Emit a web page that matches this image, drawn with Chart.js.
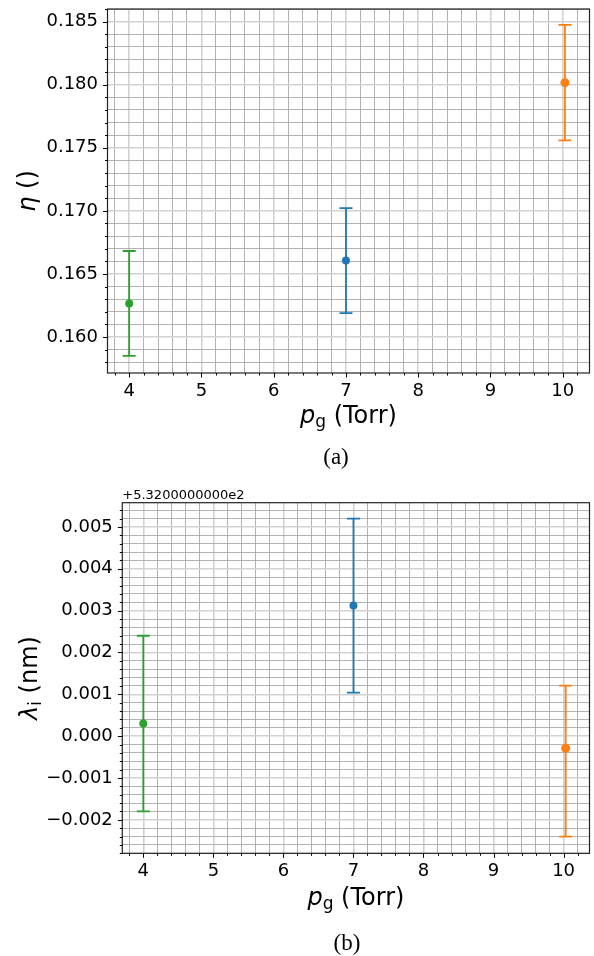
<!DOCTYPE html>
<html><head><meta charset="utf-8">
<script src="https://cdn.jsdelivr.net/npm/chart.js@4.4.1/dist/chart.umd.min.js"></script>
<style>
html,body{margin:0;padding:0;background:#fff;}
body{width:594px;height:956px;position:relative;overflow:hidden;}
canvas{position:absolute;left:0;}
</style></head><body>
<canvas id="c1" width="594" height="480" style="top:0"></canvas>
<canvas id="c2" width="594" height="476" style="top:480px"></canvas>
<script>
// ---------- data ----------
const categories = ['4 Torr', '7 Torr', '10 Torr'];
const pressure = [4.0, 7.0, 10.03];
const etaValues = [0.16266, 0.16606, 0.18016];
const etaErrPlus = [0.00416, 0.00416, 0.00458];
const etaErrMinus = [0.00416, 0.00416, 0.00458];
const lambdaOffsetText = '+5.3200000000e2';
const lambdaValues = [0.00030, 0.00312, -0.00029];
const lambdaErrPlus = [0.00210, 0.00208, 0.00150];
const lambdaErrMinus = [0.00210, 0.00208, 0.00211];
const seriesColors = ['#2ca02c', '#1f77b4', '#ff7f0e'];
const xTickLabels = ['4', '5', '6', '7', '8', '9', '10'];
const etaTickLabels = ['0.160', '0.165', '0.170', '0.175', '0.180', '0.185'];
const lambdaTickLabels = ['−0.002', '−0.001', '0.000', '0.001', '0.002', '0.003', '0.004', '0.005'];

// ---------- helpers ----------
const num = s => parseFloat(s.replace('−', '-'));
function makeTicks(min, max, step) {
  const out = [];
  const start = Math.ceil(min / step - 1e-9);
  for (let k = start; k * step <= max + 1e-12; k++) out.push(+(k * step).toFixed(8));
  return out;
}
const isMajor = (v, step) => Math.abs(v / step - Math.round(v / step)) < 1e-6;
function labelFor(v, labels) {
  for (const l of labels) if (Math.abs(num(l) - v) < 1e-9) return l;
  return '';
}

const MAJOR_GRID = '#d2d2d2', MINOR_GRID = '#a9a9a9';

function drawRich(ctx, parts, x, y, align) {
  let w = 0;
  for (const p of parts) { ctx.font = p.font; w += ctx.measureText(p.t).width; }
  let cx = align === 'center' ? x - w / 2 : x;
  for (const p of parts) {
    ctx.font = p.font;
    ctx.fillText(p.t, cx, y + (p.dy || 0));
    cx += ctx.measureText(p.t).width;
  }
}

const decor = {
  id: 'decor',
  beforeDatasetsDraw(chart) {
    const ctx = chart.ctx, xs = chart.scales.x, ys = chart.scales.y;
    const o = chart.options.plugins.decor;
    ctx.save();
    chart.data.datasets.forEach((ds, i) => {
      const pt = ds.data[0];
      const px = xs.getPixelForValue(pt.x);
      const yt = ys.getPixelForValue(pt.y + o.errPlus[i]);
      const yb = ys.getPixelForValue(pt.y - o.errMinus[i]);
      ctx.strokeStyle = ds.borderColor;
      ctx.lineWidth = 1.8;
      ctx.beginPath();
      ctx.moveTo(px, yt); ctx.lineTo(px, yb);
      ctx.moveTo(px - 6.5, yt); ctx.lineTo(px + 6.5, yt);
      ctx.moveTo(px - 6.5, yb); ctx.lineTo(px + 6.5, yb);
      ctx.stroke();
    });
    ctx.restore();
  },
  afterDraw(chart) {
    const ctx = chart.ctx, a = chart.chartArea, xs = chart.scales.x, ys = chart.scales.y;
    const o = chart.options.plugins.decor;
    ctx.save();
    // spines
    ctx.strokeStyle = '#222';
    ctx.lineWidth = 1.2;
    ctx.strokeRect(a.left, a.top, a.right - a.left, a.bottom - a.top);
    // tick marks
    ctx.lineWidth = 1;
    ctx.strokeStyle = '#000';
    ctx.beginPath();
    xs.ticks.forEach(t => {
      const p = Math.round(xs.getPixelForValue(t.value)) + 0.5;
      const len = isMajor(t.value, 1) ? 4.5 : 2.5;
      ctx.moveTo(p, a.bottom); ctx.lineTo(p, a.bottom + len);
    });
    ys.ticks.forEach(t => {
      const p = Math.round(ys.getPixelForValue(t.value)) + 0.5;
      const len = isMajor(t.value, o.yMajor) ? 4.5 : 2.5;
      ctx.moveTo(a.left, p); ctx.lineTo(a.left - len, p);
    });
    ctx.stroke();
    // axis titles
    ctx.fillStyle = '#000';
    ctx.textBaseline = 'alphabetic';
    drawRich(ctx, o.xTitle, (a.left + a.right) / 2, a.bottom + o.xTitleGap, 'center');
    ctx.translate(o.yTitleX, (a.top + a.bottom) / 2);
    ctx.rotate(-Math.PI / 2);
    drawRich(ctx, o.yTitle, 0, 0, 'center');
    ctx.setTransform(1, 0, 0, 1, 0, 0);
    // offset text
    if (o.offsetText) {
      ctx.font = '13px "DejaVu Sans"';
      ctx.textAlign = 'left';
      ctx.fillText(o.offsetText, a.left, a.top - 4);
    }
    // caption
    ctx.font = '23px "Liberation Serif"';
    ctx.textAlign = 'center';
    ctx.fillText(o.caption, o.captionX, o.captionY);
    ctx.restore();
  }
};

function buildChart(id, cfg) {
  const yMajor = num(cfg.yLabels[1]) - num(cfg.yLabels[0]);
  return new Chart(document.getElementById(id), {
    type: 'scatter',
    data: {
      datasets: pressure.map((x, i) => ({
        label: categories[i],
        data: [{ x: x, y: cfg.values[i] }],
        backgroundColor: seriesColors[i],
        borderColor: seriesColors[i],
        pointRadius: i === 2 ? 4.5 : 4,
        pointBorderWidth: 0,
        pointHoverRadius: 4
      }))
    },
    options: {
      responsive: false,
      animation: false,
      events: [],
      layout: { padding: { top: cfg.padTop, right: 2.3, left: 0, bottom: 0 } },
      plugins: {
        legend: { display: false },
        tooltip: { enabled: false },
        decor: {
          errPlus: cfg.errPlus, errMinus: cfg.errMinus, yMajor: yMajor,
          xTitle: [
            { t: 'p', font: 'italic 24px "DejaVu Sans"' },
            { t: 'g', font: '17px "DejaVu Sans"', dy: 3.5 },
            { t: ' (Torr)', font: '24px "DejaVu Sans"' }
          ],
          yTitle: cfg.yTitle,
          xTitleGap: cfg.xTitleGap,
          yTitleX: cfg.yTitleX,
          offsetText: cfg.offsetText,
          caption: cfg.caption, captionX: cfg.captionX, captionY: cfg.captionY
        }
      },
      scales: {
        x: {
          type: 'linear', min: 3.70, max: 10.37,
          afterBuildTicks: s => { s.ticks = makeTicks(3.70, 10.37, 0.2).map(v => ({ value: v })); },
          afterFit: s => { s.height = cfg.xAxisHeight; s.paddingLeft = 0; s.paddingRight = 0; },
          border: { display: false },
          grid: {
            drawTicks: false,
            color: c => isMajor(c.tick.value, 1) ? MAJOR_GRID : MINOR_GRID,
            lineWidth: c => isMajor(c.tick.value, 1) ? 1.6 : 0.9
          },
          ticks: {
            autoSkip: false, maxRotation: 0, minRotation: 0, padding: 7.5,
            color: '#000', font: { family: 'DejaVu Sans', size: 18 },
            callback: v => isMajor(v, 1) ? labelFor(v, xTickLabels) : ''
          }
        },
        y: {
          type: 'linear', min: cfg.yMin, max: cfg.yMax,
          afterBuildTicks: s => { s.ticks = makeTicks(cfg.yMin, cfg.yMax, cfg.yMinor).map(v => ({ value: v })); },
          afterFit: s => { s.width = cfg.yAxisWidth; s.paddingTop = 0; s.paddingBottom = 0; },
          border: { display: false },
          grid: {
            drawTicks: false,
            color: c => isMajor(c.tick.value, yMajor) ? MAJOR_GRID : MINOR_GRID,
            lineWidth: c => isMajor(c.tick.value, yMajor) ? 1.6 : 0.9
          },
          ticks: {
            autoSkip: false, padding: 9.5,
            color: '#000', font: { family: 'DejaVu Sans', size: 18 },
            callback: v => isMajor(v, yMajor) ? labelFor(v, cfg.yLabels) : ''
          }
        }
      }
    },
    plugins: [decor]
  });
}

buildChart('c1', {
  values: etaValues, errPlus: etaErrPlus, errMinus: etaErrMinus, yLabels: etaTickLabels,
  yMin: 0.15715, yMax: 0.1860, yMinor: 0.001,
  padTop: 9, xAxisHeight: 107, yAxisWidth: 107.5,
  xTitleGap: 50, yTitleX: 35,
  yTitle: [
    { t: 'η', font: 'italic 24px "DejaVu Sans"' },
    { t: ' ()', font: '24px "DejaVu Sans"' }
  ],
  offsetText: null,
  caption: '(a)', captionX: 336, captionY: 464
});

buildChart('c2', {
  values: lambdaValues, errPlus: lambdaErrPlus, errMinus: lambdaErrMinus, yLabels: lambdaTickLabels,
  yMin: -0.0028, yMax: 0.00558, yMinor: 0.0002,
  padTop: 22.7, xAxisHeight: 102.7, yAxisWidth: 122.3,
  xTitleGap: 52, yTitleX: 37,
  yTitle: [
    { t: 'λ', font: 'italic 24px "DejaVu Sans"' },
    { t: 'i', font: '17px "DejaVu Sans"', dy: 3.5 },
    { t: ' (nm)', font: '24px "DejaVu Sans"' }
  ],
  offsetText: lambdaOffsetText,
  caption: '(b)', captionX: 347, captionY: 470
});
</script>
</body></html>
